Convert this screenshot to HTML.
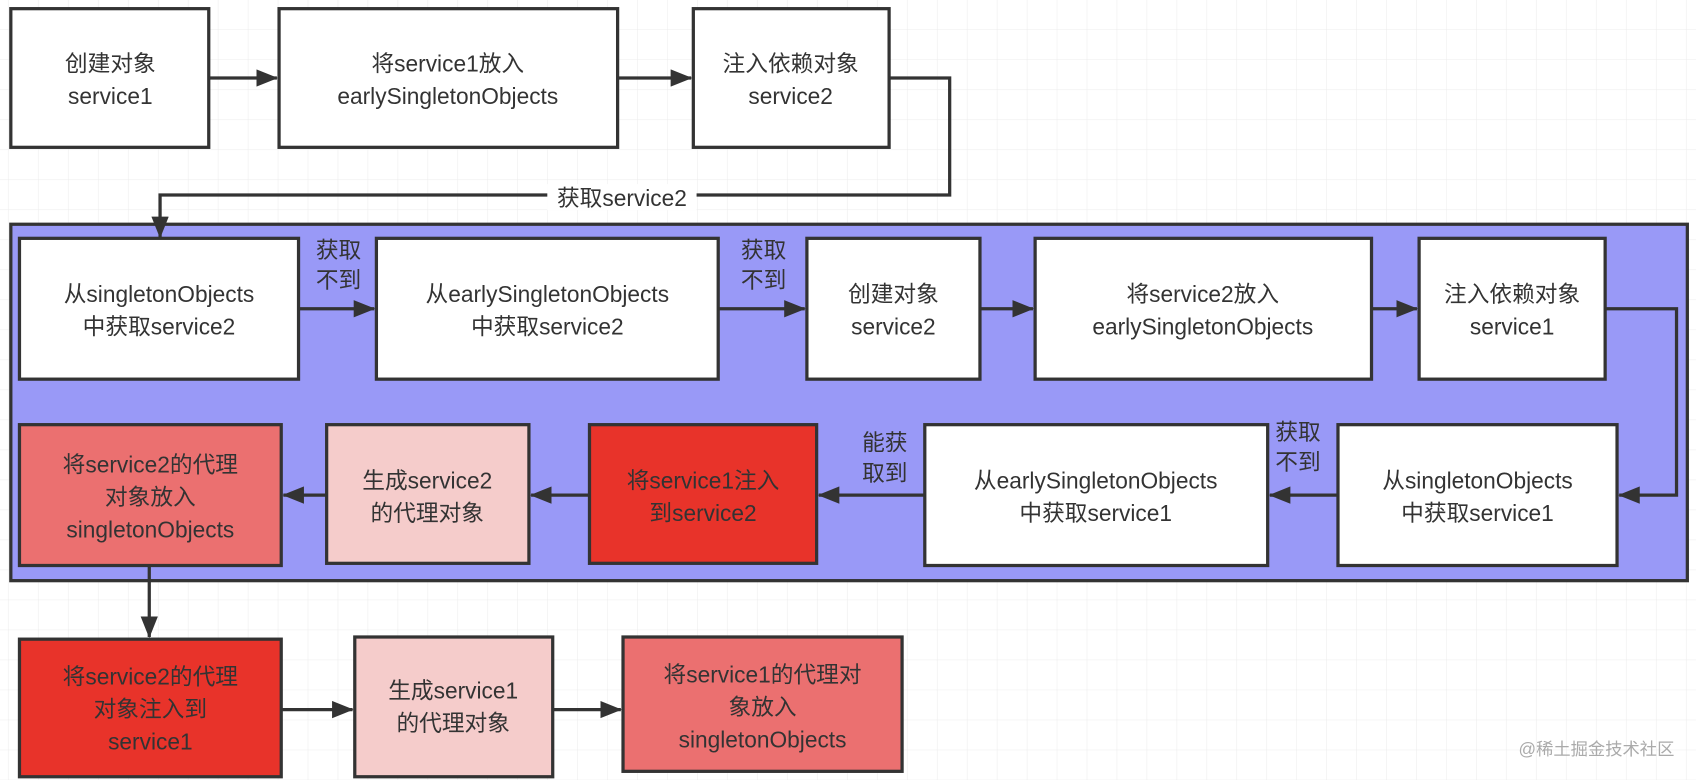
<!DOCTYPE html>
<html><head><meta charset="utf-8"><style>
html,body{margin:0;padding:0;background:#fff;}
svg{display:block;}
text{font-family:"Liberation Sans","Noto Sans CJK SC",sans-serif;font-size:21px;fill:#333;text-anchor:middle;}
</style></head><body>
<svg width="1696" height="780" viewBox="0 0 1568 720" preserveAspectRatio="none" xmlns="http://www.w3.org/2000/svg">
<defs>
<pattern id="g" width="27.7" height="27.7" patternUnits="userSpaceOnUse" x="8" y="0">
<path d="M27.7 0V27.7M0 27.7H27.7" stroke="#ececec" stroke-width="1" fill="none"/>
</pattern>
<marker id="a" markerWidth="20" markerHeight="16" refX="19" refY="8" orient="auto" markerUnits="userSpaceOnUse" viewBox="0 0 20 16">
<path d="M0 0L20 8L0 16z" fill="#333"/>
</marker>
</defs>
<rect width="1568" height="720" fill="url(#g)"/>
<g stroke="#333" stroke-width="3">
<rect x="10" y="207" width="1550" height="329" fill="#9999f7"/>
<rect x="10" y="8" width="183" height="128" fill="#fff"/>
<rect x="258" y="8" width="313" height="128" fill="#fff"/>
<rect x="641" y="8" width="181" height="128" fill="#fff"/>
<rect x="18" y="220" width="258" height="130" fill="#fff"/>
<rect x="348" y="220" width="316" height="130" fill="#fff"/>
<rect x="746" y="220" width="160" height="130" fill="#fff"/>
<rect x="957" y="220" width="311" height="130" fill="#fff"/>
<rect x="1312" y="220" width="172" height="130" fill="#fff"/>
<rect x="1237" y="392" width="258" height="130" fill="#fff"/>
<rect x="855" y="392" width="317" height="130" fill="#fff"/>
<rect x="545" y="392" width="210" height="128" fill="#e8332a"/>
<rect x="302" y="392" width="187" height="128" fill="#f5cccb"/>
<rect x="18" y="392" width="242" height="130" fill="#eb7070"/>
<rect x="18" y="590" width="242" height="127" fill="#e8332a"/>
<rect x="328" y="588" width="183" height="129" fill="#f5cccb"/>
<rect x="576" y="588" width="258" height="124" fill="#eb7070"/>
</g>
<g stroke="#333" stroke-width="3" fill="none" marker-end="url(#a)">
<path d="M193 72H256"/>
<path d="M571 72H639"/>
<path d="M822 72H878V180H148V219"/>
<path d="M276 285H346"/>
<path d="M664 285H744"/>
<path d="M906 285H955"/>
<path d="M1268 285H1310"/>
<path d="M1484 285H1550V457H1497"/>
<path d="M1237 457H1174"/>
<path d="M855 457H757"/>
<path d="M545 457H491"/>
<path d="M302 457H262"/>
<path d="M138 522V588"/>
<path d="M260 655H326"/>
<path d="M511 655H574"/>
</g>
<rect x="506" y="170" width="138" height="24" fill="#fff"/>
<text x="575" y="190">获取service2</text>
<text x="102" y="66">创建对象</text><text x="102" y="96">service1</text>
<text x="414" y="66">将service1放入</text><text x="414" y="96">earlySingletonObjects</text>
<text x="731" y="66">注入依赖对象</text><text x="731" y="96">service2</text>
<text x="147" y="279">从singletonObjects</text><text x="147" y="309">中获取service2</text>
<text x="506" y="279">从earlySingletonObjects</text><text x="506" y="309">中获取service2</text>
<text x="826" y="279">创建对象</text><text x="826" y="309">service2</text>
<text x="1112" y="279">将service2放入</text><text x="1112" y="309">earlySingletonObjects</text>
<text x="1398" y="279">注入依赖对象</text><text x="1398" y="309">service1</text>
<text x="313" y="238">获取</text><text x="313" y="266">不到</text>
<text x="706" y="238">获取</text><text x="706" y="266">不到</text>
<text x="1366" y="451">从singletonObjects</text><text x="1366" y="481">中获取service1</text>
<text x="1013" y="451">从earlySingletonObjects</text><text x="1013" y="481">中获取service1</text>
<text x="650" y="451">将service1注入</text><text x="650" y="481">到service2</text>
<text x="395" y="451">生成service2</text><text x="395" y="481">的代理对象</text>
<text x="139" y="436">将service2的代理</text><text x="139" y="466">对象放入</text><text x="139" y="496">singletonObjects</text>
<text x="1200" y="406">获取</text><text x="1200" y="434">不到</text>
<text x="818" y="416">能获</text><text x="818" y="444">取到</text>
<text x="139" y="632">将service2的代理</text><text x="139" y="662">对象注入到</text><text x="139" y="692">service1</text>
<text x="419" y="645">生成service1</text><text x="419" y="675">的代理对象</text>
<text x="705" y="630">将service1的代理对</text><text x="705" y="660">象放入</text><text x="705" y="690">singletonObjects</text>
<text x="1548" y="697" style="text-anchor:end;font-size:16px;fill:#aaa">@稀土掘金技术社区</text>
</svg>
</body></html>
